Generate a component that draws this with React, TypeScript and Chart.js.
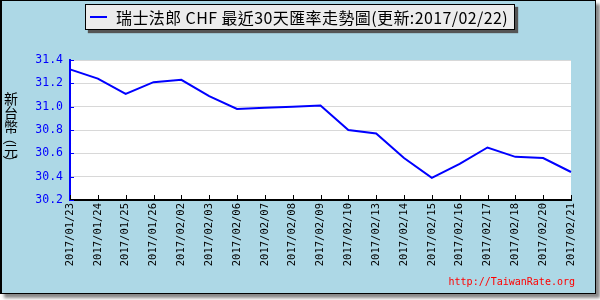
import React, { useEffect, useRef } from "react";
import { Chart, registerables } from "chart.js";

Chart.register(...registerables);

const dates: string[] = [
  "2017/01/23", "2017/01/24", "2017/01/25", "2017/01/26", "2017/02/02",
  "2017/02/03", "2017/02/06", "2017/02/07", "2017/02/08", "2017/02/09",
  "2017/02/10", "2017/02/13", "2017/02/14", "2017/02/15", "2017/02/16",
  "2017/02/17", "2017/02/18", "2017/02/20", "2017/02/21",
];

const chfRates: number[] = [
  31.32, 31.24, 31.11, 31.21, 31.23,
  31.09, 30.98, 30.99, 31.0, 31.01,
  30.8, 30.77, 30.56, 30.39, 30.51,
  30.65, 30.57, 30.56, 30.44,
];

const yMin = 30.2;
const yMax = 31.4;
const yStep = 0.1;

const legendTitle = "瑞士法郎 CHF 最近30天匯率走勢圖(更新:2017/02/22)";
const yAxisTitle = "新台幣（元）";
const watermark = "http://TaiwanRate.org";

const plotDecor = {
  id: "plotDecor",
  beforeDraw(chart: any) {
    const { ctx, chartArea } = chart;
    ctx.save();
    ctx.fillStyle = "#ffffff";
    ctx.fillRect(chartArea.left, chartArea.top, chartArea.right - chartArea.left, chartArea.bottom - chartArea.top);
    ctx.restore();
  },
  afterDraw(chart: any) {
    const { ctx, chartArea, scales } = chart;
    ctx.save();
    ctx.strokeStyle = "#000000";
    ctx.lineWidth = 1;
    const xs = scales.x;
    xs.ticks.forEach((_t: any, i: number) => {
      const px = Math.round(xs.getPixelForTick(i)) + 0.5;
      ctx.beginPath();
      ctx.moveTo(px, chartArea.bottom);
      ctx.lineTo(px, chartArea.bottom - 5);
      ctx.stroke();
    });
    ctx.strokeStyle = "#0000ff";
    const ys = scales.y;
    ys.ticks.forEach((_t: any, i: number) => {
      const py = Math.round(ys.getPixelForTick(i)) + 0.5;
      ctx.beginPath();
      ctx.moveTo(chartArea.left, py);
      ctx.lineTo(chartArea.left + 4, py);
      ctx.stroke();
    });
    ctx.restore();
  },
};

export default function App() {
  const canvasRef = useRef<HTMLCanvasElement | null>(null);

  useEffect(() => {
    if (!canvasRef.current) return;
    const chart = new Chart(canvasRef.current, {
      type: "line",
      data: {
        labels: dates,
        datasets: [
          {
            label: legendTitle,
            data: chfRates,
            borderColor: "#0000ff",
            borderWidth: 2,
            pointRadius: 0,
            tension: 0,
            fill: false,
          },
        ],
      },
      options: {
        animation: false,
        responsive: false,
        maintainAspectRatio: false,
        layout: { padding: { left: 0, top: 60, right: 29, bottom: 0 } },
        plugins: {
          legend: { display: false },
          tooltip: { enabled: false },
        },
        scales: {
          x: {
            offset: false,
            grid: { display: false, drawTicks: false },
            border: { display: true, color: "#000000", width: 2 },
            ticks: {
              autoSkip: false,
              minRotation: 90,
              maxRotation: 90,
              padding: 3,
              color: "#000000",
              font: { family: "DejaVu Sans Mono", size: 10.5 },
            },
            afterFit(scale: any) {
              scale.height = 100;
            },
          },
          y: {
            min: yMin,
            max: yMax,
            grid: { color: "#d8d8d8", lineWidth: 1, drawTicks: false },
            border: { display: true, color: "#0000ff", width: 2 },
            ticks: {
              stepSize: yStep,
              padding: 7,
              color: "#0000ff",
              font: { family: "DejaVu Sans Mono", size: 11.5 },
              callback: (v: any) => {
                const n = Math.round(Number(v) * 10);
                return n % 2 === 0 ? (n / 10).toFixed(1) : "";
              },
            },
            afterFit(scale: any) {
              scale.width = 70;
            },
          },
        },
      },
      plugins: [plotDecor],
    });
    return () => chart.destroy();
  }, []);

  const titleChars = Array.from(yAxisTitle);

  return (
    <div style={{ position: "fixed", left: 0, top: 0, width: 600, height: 300, background: "#ffffff", overflow: "hidden" }}>
      <div
        style={{
          position: "absolute",
          left: 0,
          top: 0,
          width: 596,
          height: 294,
          boxSizing: "border-box",
          background: "#add8e6",
          border: "1px solid #000000",
          borderLeftWidth: 2,
          boxShadow: "4px 4px 3px #888888",
        }}
      />
      <canvas ref={canvasRef} width={600} height={300} style={{ position: "absolute", left: 0, top: 0, width: 600, height: 300 }} />
      <div
        style={{
          position: "absolute",
          left: 85,
          top: 4,
          width: 430,
          height: 26,
          boxSizing: "border-box",
          background: "#ececec",
          border: "1px solid #000000",
          boxShadow: "3px 3px 1px #555555",
          display: "flex",
          alignItems: "center",
          fontFamily: "'Noto Sans CJK TC', sans-serif",
          fontSize: 16,
          letterSpacing: 0.4,
          color: "#000000",
          whiteSpace: "nowrap",
        }}
      >
        <span style={{ display: "inline-block", width: 17, height: 2, background: "#0000ff", marginLeft: 4, marginRight: 9 }} />
        <span>{legendTitle}</span>
      </div>
      <div
        style={{
          position: "absolute",
          left: 3,
          top: 91,
          width: 16,
          fontFamily: "'Noto Sans CJK TC', sans-serif",
          fontSize: 14,
          lineHeight: "12px",
          color: "#000000",
          textAlign: "center",
        }}
      >
        {titleChars.map((c, i) => {
          const paren = c === "（" || c === "）";
          return (
            <div
              key={i}
              style={{
                height: paren ? 10 : 14,
                lineHeight: paren ? "10px" : "14px",
                transform: paren ? "rotate(90deg)" : undefined,
              }}
            >
              {c}
            </div>
          );
        })}
      </div>
      <div
        style={{
          position: "absolute",
          right: 25,
          top: 276,
          fontFamily: "'DejaVu Sans Mono', monospace",
          fontSize: 10,
          lineHeight: "12px",
          color: "#ff0000",
        }}
      >
        {watermark}
      </div>
    </div>
  );
}
